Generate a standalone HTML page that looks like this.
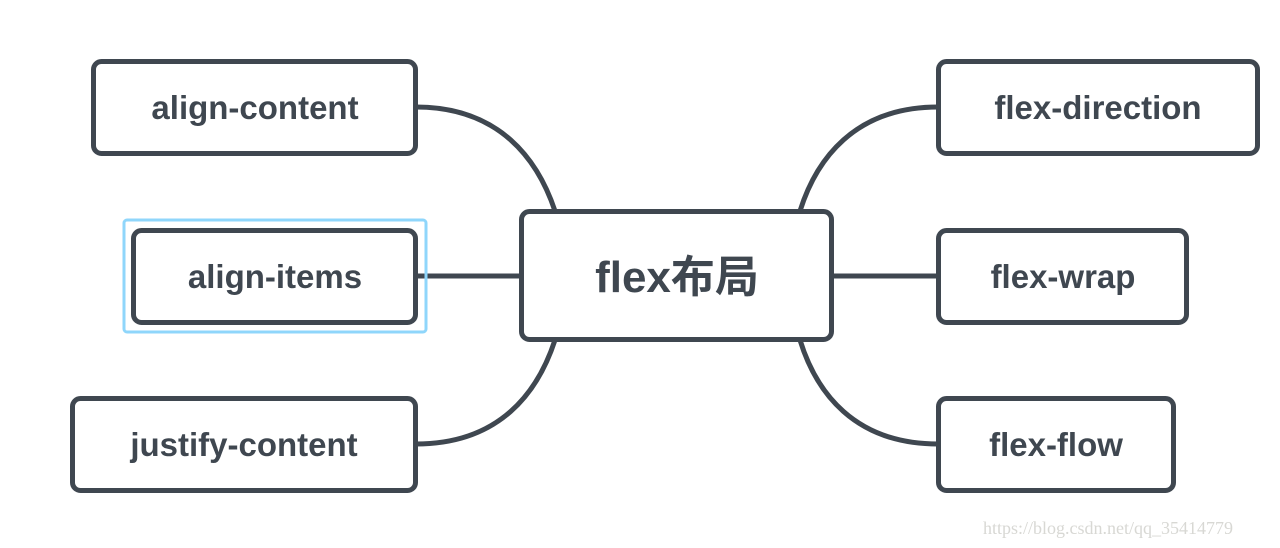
<!DOCTYPE html>
<html><head><meta charset="utf-8"><style>
html,body{margin:0;padding:0;background:#fff;}
svg{display:block}
text{font-family:"Liberation Sans","Noto Sans CJK SC",sans-serif;font-weight:bold;fill:#3f4750;}
</style></head><body>
<svg width="1280" height="548" viewBox="0 0 1280 548" xmlns="http://www.w3.org/2000/svg">
<g fill="none" stroke="#3f4750" stroke-width="5">
<path d="M416,107 C500,107 538,160 555,211"/>
<path d="M416,276 L521,276"/>
<path d="M416,444 C500,444 538,392 555,340"/>
<path d="M938,107 C854,107 816,160 800,211"/>
<path d="M832,276 L938,276"/>
<path d="M938,444 C854,444 816,392 800,340"/>
<rect x="124" y="220" width="302" height="112" rx="3" stroke="#8fd6fb" stroke-width="3"/>
<rect x="93.5" y="61.5" width="322" height="92" rx="8" fill="#fff"/>
<rect x="133.5" y="230.5" width="282" height="92" rx="8" fill="#fff"/>
<rect x="72.5" y="398.5" width="343" height="92" rx="8" fill="#fff"/>
<rect x="521.5" y="211.5" width="310" height="128" rx="8" fill="#fff"/>
<rect x="938.5" y="61.5" width="319" height="92" rx="8" fill="#fff"/>
<rect x="938.5" y="230.5" width="248" height="92" rx="8" fill="#fff"/>
<rect x="938.5" y="398.5" width="235" height="92" rx="8" fill="#fff"/>
</g>
<g font-size="33" text-anchor="middle">
<text x="255" y="119">align-content</text>
<text x="275" y="288">align-items</text>
<text x="244" y="456">justify-content</text>
<text x="1098" y="119">flex-direction</text>
<text x="1063" y="288">flex-wrap</text>
<text x="1056" y="456">flex-flow</text>
<text x="677" y="292" font-size="44">flex布局</text>
</g>
<text x="1108" y="534" font-size="18" text-anchor="middle" style="font-family:'Liberation Serif',serif;font-weight:normal;fill:#d8d8d4">https://blog.csdn.net/qq_35414779</text>
</svg>
</body></html>
